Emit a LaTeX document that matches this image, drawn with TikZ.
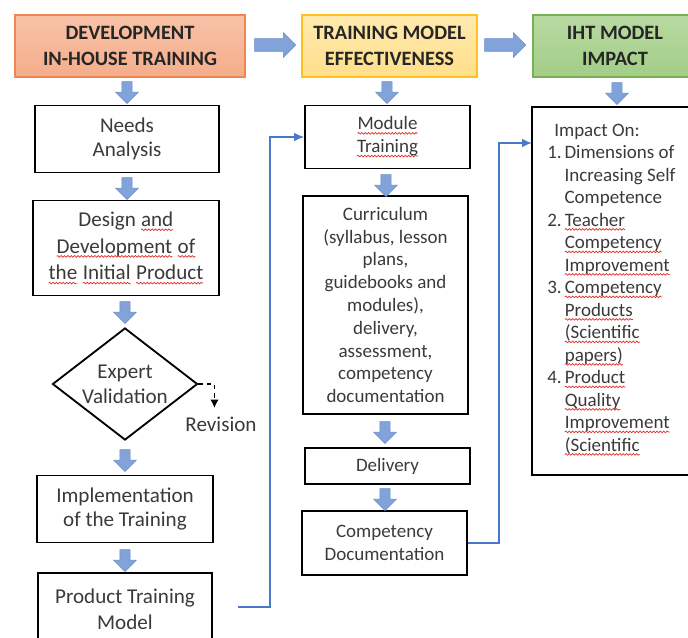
\documentclass[tikz,border=0pt]{standalone}
\usepackage{fontspec}
\setmainfont{Carlito}
\usetikzlibrary{shapes.geometric,shapes.arrows,arrows.meta,decorations.pathmorphing}

\definecolor{textgray}{HTML}{3A3A3A}
\definecolor{wavered}{HTML}{E0302A}
\definecolor{orangefill}{HTML}{F5AD8B}
\definecolor{orangetop}{HTML}{F8C2A7}
\definecolor{orangeline}{HTML}{EE8653}
\definecolor{yellowfill}{HTML}{FFDF8A}
\definecolor{yellowtop}{HTML}{FFE9AE}
\definecolor{yellowline}{HTML}{FFC21A}
\definecolor{greenfill}{HTML}{A3CD87}
\definecolor{greentop}{HTML}{B8DAA2}
\definecolor{greenline}{HTML}{78B152}
\definecolor{arrowblue}{HTML}{82A2DA}
\definecolor{arrowedge}{HTML}{6A8CCB}
\definecolor{linkblue}{HTML}{4A78C8}

% red wavy spell-check mark
\newcommand\sq[1]{\tikz[baseline=(w.base)]{\node[shape=rectangle, draw=none, fill=none,
    minimum width=0pt, minimum height=0pt, inner sep=0pt, outer sep=0pt] (w) {#1};
  \draw[wavered, line width=0.5pt, solid, decorate, decoration={snake, amplitude=0.6pt, segment length=2.4pt}]
    ([yshift=-2.4pt]w.base west) -- ([yshift=-2.4pt]w.base east);}}

\tikzset{
  box/.style={draw=black, line width=1.3pt, align=center, text=textgray,
    font=\fontsize{15}{17.5}\selectfont, inner sep=0pt},
  midbox/.style={box, font=\fontsize{13.5}{16.2}\selectfont},
  headbox/.style={line width=1pt, align=center, text=black!85,
    font=\bfseries\fontsize{14.5}{18}\selectfont, inner sep=0pt,
    minimum height=1.55cm},
  blkdown/.style={single arrow, fill=arrowblue, draw=arrowedge, line width=0.4pt,
    inner sep=0pt, inner ysep=0.12cm, single arrow head extend=0.155cm,
    minimum height=0.55cm, rotate=-90},
  blkright/.style={single arrow, fill=arrowblue, draw=arrowedge, line width=0.4pt,
    inner sep=0pt, inner ysep=0.15cm, single arrow head extend=0.15cm,
    minimum height=1.025cm},
  link/.style={draw=linkblue, line width=0.9pt, -{Latex[length=7pt,width=6pt]}}
}

\begin{document}
\begin{tikzpicture}[x=0.025cm, y=-0.025cm]
  \useasboundingbox (0,0) rectangle (688,637);
  \clip (0,0) rectangle (688,637);

  %HEADERS
  \node[headbox, draw=orangeline, top color=orangetop, bottom color=orangefill,
    minimum width=5.75cm] (h1) at (130,46) {DEVELOPMENT\\IN-HOUSE TRAINING};
  \node[headbox, draw=yellowline, top color=yellowtop, bottom color=yellowfill,
    minimum width=4.375cm] (h2) at (389.5,46) {TRAINING MODEL\\EFFECTIVENESS};
  \node[headbox, draw=greenline, top color=greentop, bottom color=greenfill,
    minimum width=4.1cm] (h3) at (615,46) {IHT MODEL\\IMPACT};
  \node[blkright] (r1) at (272,45) {};
  \node[blkright] (r2) at (502,45) {};

  %COLUMN 1
  \node[box, minimum width=4.6cm, minimum height=1.675cm] (needs) at (127,139) {Needs\\Analysis};
  \node[box, minimum width=4.65cm, minimum height=2.375cm, font=\fontsize{15}{19}\selectfont] (design) at (126,248)
    {Design \sq{and}\\\sq{Development} \sq{of}\\\sq{the} \sq{Initial} \sq{Product}};
  \node[diamond, draw=black, line width=1.3pt, align=center, text=textgray,
    font=\fontsize{15}{17.5}\selectfont, inner sep=0pt, aspect=1.3,
    minimum width=3.625cm, minimum height=2.8cm] (val) at (125,384) {Expert\\Validation};
  \node[text=textgray, font=\fontsize{15}{17.5}\selectfont] (rev) at (221,424) {Revision};
  \node[box, minimum width=4.4cm, minimum height=1.675cm] (impl) at (125,509) {Implementation\\of the Training};
  \node[box, minimum width=4.35cm, minimum height=1.8cm, font=\fontsize{15}{18.5}\selectfont] (ptm) at (125,609) {Product Training\\Model};
  \node[blkdown] (d1) at (127,90) {};
  \node[blkdown] (d2) at (127,186) {};
  \node[blkdown] (d3) at (125,310) {};
  \node[blkdown] (d4) at (125,458) {};
  \node[blkdown] (d5) at (125,558) {};

  %COLUMN 2
  \node[midbox, minimum width=4.125cm, minimum height=1.575cm] (mod) at (387.5,137) {\sq{Module}\\\sq{Training}};
  \node[midbox, minimum width=4.125cm, minimum height=5.45cm] (curr) at (385.5,305)
    {Curriculum\\(syllabus, lesson\\plans,\\guidebooks and\\modules),\\delivery,\\assessment,\\competency\\documentation};
  \node[midbox, minimum width=4.125cm, minimum height=0.9cm] (del) at (387.5,466) {Delivery};
  \node[midbox, minimum width=4.125cm, minimum height=1.6cm] (comp) at (384.5,543) {Competency\\Documentation};
  \node[blkdown] (d6) at (387,90) {};
  \node[blkdown] (d7) at (386,183) {};
  \node[blkdown] (d8) at (385,430) {};
  \node[blkdown] (d9) at (385,497) {};

  %COLUMN 3
  \node[box, minimum width=4.1cm, minimum height=9.2cm] (imp) at (614,291) {};
  \node[blkdown] (d10) at (617,91) {};
  \node[anchor=north west, align=left, text=textgray, inner sep=0pt,
    font=\fontsize{13.5}{16}\selectfont] (imptext) at (547,120) {%
    \begin{tabular}{@{}l@{\hspace{2pt}}l@{}}
      \multicolumn{2}{@{\hspace{5pt}}l}{Impact On:}\\
      1. & Dimensions of\\
         & Increasing Self\\
         & Competence\\
      2. & \sq{Teacher}\\
         & \sq{Competency}\\
         & \sq{Improvement}\\
      3. & \sq{Competency}\\
         & \sq{Products}\\
         & \sq{(Scientific}\\
         & \sq{papers)}\\
      4. & \sq{Product}\\
         & \sq{Quality}\\
         & \sq{Improvement}\\
         & \sq{(Scientific}
    \end{tabular}};

  %EDGE
  \coordinate (pout) at (238,607);
  \coordinate (impin) at (532,143);
  \draw[link] (pout) -- ++(32,0) |- (mod.west);
  \draw[link] (comp.east) -- ++(31,0) |- (impin);
  \draw[dashed, line width=1pt, -{Latex[length=6pt,width=6pt]}] (val.east) -- ++(16,0) -- ++(0,24);
\end{tikzpicture}
\end{document}
